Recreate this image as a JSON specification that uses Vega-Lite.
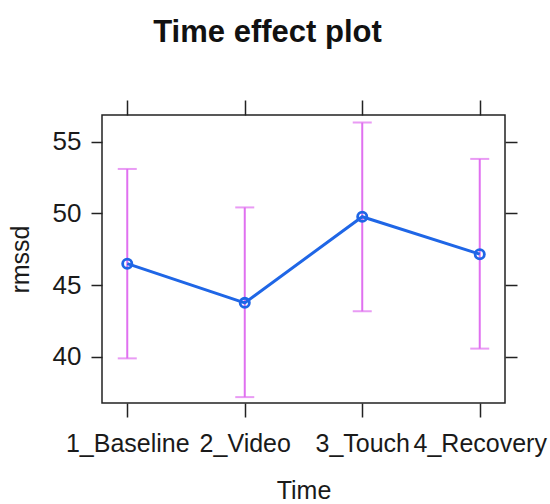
{
  "$schema": "https://vega.github.io/schema/vega-lite/v6.json",
  "autosize": {"type": "none"},
  "padding": {"left": 102, "top": 115, "right": 45, "bottom": 101},
  "width": 403,
  "height": 288,
  "background": "white",
  "title": {
    "text": "Time effect plot",
    "font": "Liberation Sans",
    "fontSize": 31,
    "fontWeight": "bold",
    "color": "#111",
    "anchor": "middle",
    "dx": -36,
    "baseline": "alphabetic",
    "offset": 26
  },
  "data": {
    "values": [
      {"Time": "1_Baseline", "rmssd": 46.5, "lo": 39.9, "hi": 53.1},
      {"Time": "2_Video", "rmssd": 43.77, "lo": 37.2, "hi": 50.42},
      {"Time": "3_Touch", "rmssd": 49.77, "lo": 43.18, "hi": 56.33},
      {"Time": "4_Recovery", "rmssd": 47.16, "lo": 40.58, "hi": 53.8}
    ]
  },
  "config": {
    "view": {"stroke": "#222", "strokeWidth": 1.5},
    "axis": {
      "domain": false,
      "grid": false,
      "tickColor": "#222",
      "tickWidth": 1.5,
      "labelFont": "Liberation Sans",
      "labelFontSize": 25,
      "labelColor": "#1a1a1a",
      "titleFont": "Liberation Sans",
      "titleFontWeight": "normal",
      "titleColor": "#1a1a1a"
    }
  },
  "layer": [
    {
      "mark": {"type": "rule", "color": "#e070f0", "strokeWidth": 2},
      "encoding": {
        "x": {
          "field": "Time", "type": "ordinal",
          "scale": {"type": "point", "padding": 0.215},
          "axis": {"orient": "bottom", "labelAngle": 0, "tickSize": 14, "labelPadding": 14, "labelFontSize": 25, "title": "Time", "titleFontSize": 25, "titlePadding": 22}
        },
        "y": {
          "field": "lo", "type": "quantitative",
          "scale": {"domain": [36.79, 56.86], "nice": false, "zero": false},
          "axis": {"orient": "left", "values": [40, 45, 50, 55], "tickSize": 11, "labelPadding": 10, "labelFontSize": 26, "title": "rmssd", "titleFontSize": 25, "titlePadding": 19}
        },
        "y2": {"field": "hi"}
      }
    },
    {
      "mark": {"type": "tick", "color": "#e070f0", "orient": "horizontal", "size": 19, "thickness": 2},
      "encoding": {
        "x": {
          "field": "Time", "type": "ordinal",
          "axis": {"orient": "top", "labels": false, "tickSize": 15, "title": null}
        },
        "y": {
          "field": "lo", "type": "quantitative",
          "axis": {"orient": "right", "values": [40, 45, 50, 55], "labels": false, "tickSize": 12, "title": null}
        }
      }
    },
    {
      "mark": {"type": "tick", "color": "#e070f0", "orient": "horizontal", "size": 19, "thickness": 2},
      "encoding": {
        "x": {"field": "Time", "type": "ordinal", "axis": null},
        "y": {"field": "hi", "type": "quantitative", "axis": null}
      }
    },
    {
      "mark": {"type": "line", "color": "#1f66e6", "strokeWidth": 3},
      "encoding": {
        "x": {"field": "Time", "type": "ordinal", "axis": null},
        "y": {"field": "rmssd", "type": "quantitative", "axis": null}
      }
    },
    {
      "mark": {"type": "point", "shape": "circle", "filled": false, "color": "#1f66e6", "size": 85, "strokeWidth": 2.8, "opacity": 1},
      "encoding": {
        "x": {"field": "Time", "type": "ordinal", "axis": null},
        "y": {"field": "rmssd", "type": "quantitative", "axis": null}
      }
    }
  ],
  "resolve": {"axis": {"x": "independent", "y": "independent"}}
}
